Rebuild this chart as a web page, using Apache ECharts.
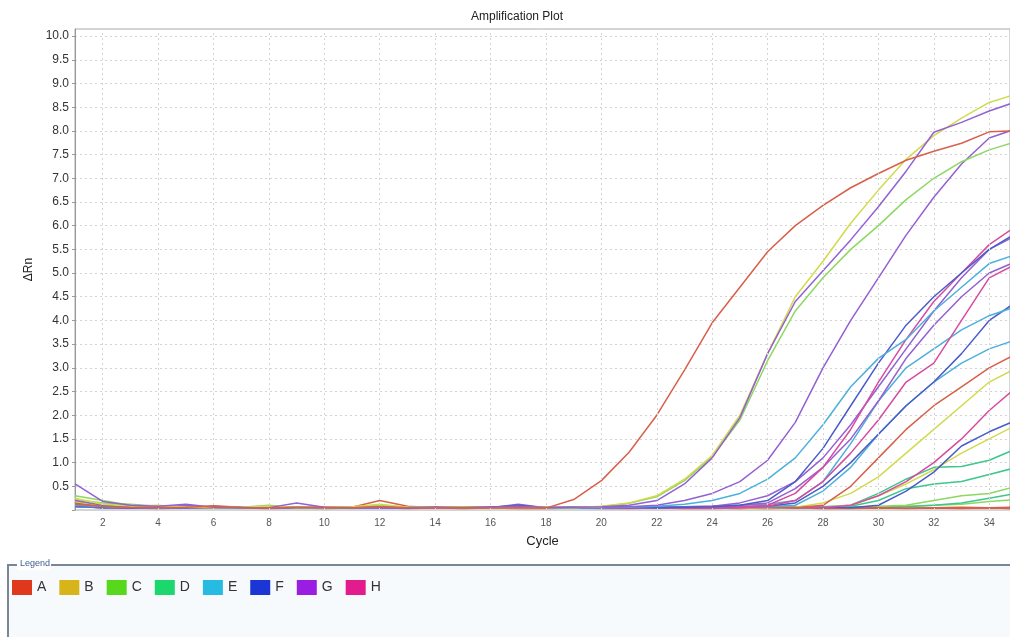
<!DOCTYPE html>
<html>
<head>
<meta charset="utf-8">
<script src="https://cdn.jsdelivr.net/npm/echarts@6/dist/echarts.min.js"></script>
<style>
  html, body { margin: 0; padding: 0; background: #fff; }
  #chart { width: 1010px; height: 637px; }
</style>
</head>
<body>
<div id="chart"></div>
<script>
// cycles 1..35
var cycles = [1,2,3,4,5,6,7,8,9,10,11,12,13,14,15,16,17,18,19,20,21,22,23,24,25,26,27,28,29,30,31,32,33,34,35];
var xTicks = [2,4,6,8,10,12,14,16,18,20,22,24,26,28,30,32,34];
var rows = ['A','B','C','D','E','F','G','H'];

// ΔRn per well, grouped by row
var a1 = [0.12,0.08,0.06,0.05,0.06,0.08,0.05,0.04,0.06,0.05,0.05,0.07,0.05,0.04,0.05,0.04,0.05,0.04,0.22,0.62,1.22,2.0,2.95,3.95,4.7,5.45,6.0,6.43,6.8,7.1,7.38,7.57,7.74,7.98,8.0];
var a2 = [0.15,0.1,0.07,0.06,0.05,0.09,0.06,0.05,0.04,0.05,0.06,0.2,0.08,0.05,0.04,0.05,0.06,0.04,0.05,0.04,0.05,0.04,0.05,0.04,0.03,0.05,0.04,0.05,0.04,0.05,0.04,0.05,0.06,0.05,0.06];
var a3 = [0.08,0.05,0.04,0.03,0.04,0.06,0.04,0.03,0.04,0.03,0.04,0.05,0.03,0.04,0.03,0.04,0.03,0.03,0.04,0.03,0.03,0.04,0.03,0.03,0.04,0.03,0.04,0.03,0.03,0.04,0.03,0.04,0.03,0.04,0.03];
var a4 = [0.1,0.07,0.05,0.06,0.05,0.07,0.05,0.06,0.05,0.04,0.05,0.06,0.05,0.04,0.05,0.04,0.05,0.04,0.05,0.04,0.05,0.04,0.05,0.04,0.05,0.06,0.05,0.1,0.5,1.1,1.7,2.2,2.6,3.0,3.3];
var b1 = [0.25,0.12,0.08,0.1,0.06,0.05,0.06,0.08,0.05,0.06,0.07,0.12,0.06,0.05,0.06,0.05,0.04,0.06,0.05,0.08,0.15,0.3,0.65,1.15,2.0,3.3,4.5,5.25,6.05,6.75,7.4,7.9,8.27,8.6,8.78];
var b2 = [0.2,0.1,0.07,0.05,0.06,0.05,0.07,0.05,0.04,0.05,0.06,0.08,0.05,0.04,0.05,0.04,0.05,0.06,0.04,0.05,0.04,0.05,0.04,0.05,0.04,0.05,0.06,0.15,0.35,0.7,1.2,1.7,2.2,2.7,3.0];
var b3 = [0.18,0.09,0.06,0.05,0.05,0.06,0.05,0.04,0.05,0.04,0.05,0.1,0.05,0.04,0.05,0.04,0.05,0.04,0.05,0.04,0.05,0.04,0.05,0.04,0.05,0.04,0.05,0.06,0.1,0.3,0.55,0.85,1.2,1.5,1.8];
var c1 = [0.3,0.2,0.1,0.08,0.07,0.06,0.05,0.07,0.06,0.05,0.06,0.1,0.06,0.05,0.06,0.05,0.06,0.05,0.06,0.07,0.14,0.28,0.62,1.12,1.9,3.15,4.2,4.9,5.5,6.0,6.55,7.0,7.35,7.6,7.78];
var c2 = [0.22,0.15,0.12,0.08,0.06,0.05,0.06,0.1,0.05,0.06,0.05,0.08,0.06,0.05,0.04,0.05,0.06,0.05,0.04,0.05,0.06,0.05,0.04,0.05,0.06,0.05,0.06,0.05,0.06,0.08,0.1,0.2,0.3,0.35,0.5];
var c3 = [0.15,0.12,0.09,0.06,0.05,0.06,0.05,0.06,0.05,0.04,0.06,0.07,0.05,0.06,0.05,0.04,0.05,0.06,0.05,0.04,0.06,0.05,0.06,0.05,0.04,0.06,0.05,0.06,0.07,0.06,0.08,0.1,0.12,0.18,0.22];
var d1 = [0.12,0.08,0.06,0.05,0.06,0.05,0.04,0.05,0.06,0.05,0.04,0.05,0.06,0.05,0.04,0.05,0.06,0.05,0.04,0.05,0.06,0.05,0.04,0.05,0.06,0.05,0.06,0.07,0.1,0.35,0.65,0.9,0.92,1.05,1.3];
var d2 = [0.1,0.07,0.05,0.06,0.05,0.04,0.05,0.06,0.05,0.04,0.05,0.06,0.05,0.04,0.05,0.06,0.05,0.04,0.05,0.06,0.05,0.04,0.05,0.06,0.05,0.04,0.05,0.06,0.08,0.2,0.45,0.55,0.6,0.75,0.9];
var d3 = [0.14,0.1,0.07,0.05,0.06,0.05,0.06,0.05,0.04,0.05,0.06,0.05,0.04,0.05,0.06,0.05,0.04,0.05,0.06,0.05,0.04,0.05,0.06,0.05,0.04,0.05,0.06,0.05,0.06,0.05,0.07,0.1,0.15,0.25,0.35];
var e1 = [0.1,0.07,0.06,0.05,0.06,0.05,0.04,0.05,0.06,0.05,0.04,0.05,0.06,0.05,0.04,0.05,0.06,0.05,0.04,0.05,0.06,0.08,0.12,0.2,0.35,0.65,1.1,1.8,2.6,3.2,3.6,4.2,4.7,5.2,5.4];
var e2 = [0.08,0.06,0.05,0.06,0.05,0.04,0.05,0.06,0.05,0.04,0.05,0.06,0.05,0.04,0.05,0.06,0.05,0.04,0.05,0.06,0.05,0.06,0.07,0.08,0.1,0.12,0.2,0.6,1.4,2.3,3.0,3.4,3.8,4.1,4.3];
var e3 = [0.07,0.05,0.06,0.05,0.04,0.05,0.06,0.05,0.04,0.05,0.06,0.05,0.04,0.05,0.06,0.05,0.04,0.05,0.06,0.05,0.04,0.05,0.06,0.05,0.06,0.07,0.1,0.4,0.9,1.6,2.2,2.7,3.1,3.4,3.6];
var f1 = [0.09,0.06,0.05,0.06,0.05,0.04,0.05,0.06,0.05,0.04,0.05,0.06,0.05,0.04,0.05,0.06,0.1,0.05,0.04,0.05,0.06,0.05,0.06,0.07,0.1,0.2,0.6,1.3,2.2,3.1,3.9,4.5,5.0,5.5,5.85];
var f2 = [0.08,0.05,0.06,0.05,0.04,0.05,0.06,0.05,0.04,0.05,0.06,0.05,0.04,0.05,0.06,0.05,0.04,0.05,0.06,0.05,0.04,0.05,0.06,0.05,0.06,0.08,0.15,0.5,1.0,1.6,2.2,2.7,3.3,4.0,4.4];
var f3 = [0.07,0.06,0.05,0.04,0.05,0.06,0.05,0.04,0.05,0.06,0.05,0.04,0.05,0.06,0.05,0.04,0.05,0.06,0.05,0.04,0.05,0.06,0.05,0.04,0.05,0.06,0.05,0.06,0.05,0.1,0.4,0.8,1.35,1.65,1.9];
var g1 = [0.55,0.18,0.1,0.08,0.12,0.06,0.05,0.05,0.15,0.06,0.05,0.06,0.05,0.04,0.05,0.06,0.08,0.05,0.06,0.07,0.1,0.2,0.55,1.1,1.95,3.3,4.4,5.05,5.7,6.4,7.15,7.97,8.18,8.42,8.62];
var g2 = [0.2,0.1,0.07,0.06,0.05,0.06,0.05,0.04,0.05,0.06,0.05,0.04,0.05,0.06,0.05,0.04,0.05,0.06,0.05,0.06,0.07,0.1,0.2,0.35,0.6,1.05,1.85,3.0,4.0,4.9,5.8,6.6,7.3,7.85,8.05];
var g3 = [0.12,0.08,0.06,0.05,0.1,0.05,0.06,0.05,0.04,0.05,0.06,0.05,0.04,0.05,0.06,0.05,0.12,0.05,0.04,0.05,0.06,0.05,0.06,0.08,0.15,0.3,0.6,1.1,1.8,2.6,3.4,4.2,4.9,5.5,5.8];
var g4 = [0.1,0.07,0.05,0.06,0.05,0.04,0.05,0.06,0.05,0.04,0.05,0.06,0.05,0.04,0.05,0.06,0.05,0.04,0.05,0.06,0.05,0.06,0.07,0.08,0.1,0.15,0.45,0.9,1.5,2.3,3.2,3.9,4.5,5.0,5.25];
var h1 = [0.1,0.06,0.05,0.06,0.05,0.04,0.05,0.06,0.05,0.04,0.05,0.06,0.05,0.04,0.05,0.06,0.05,0.04,0.05,0.06,0.05,0.04,0.05,0.06,0.07,0.1,0.35,0.9,1.7,2.7,3.6,4.4,5.0,5.6,6.0];
var h2 = [0.09,0.06,0.05,0.04,0.05,0.06,0.05,0.04,0.05,0.06,0.05,0.04,0.05,0.06,0.05,0.04,0.05,0.06,0.05,0.04,0.05,0.06,0.05,0.04,0.05,0.08,0.2,0.6,1.2,1.9,2.7,3.1,4.0,4.9,5.2];
var h3 = [0.08,0.05,0.06,0.05,0.04,0.05,0.06,0.05,0.04,0.05,0.06,0.05,0.04,0.05,0.06,0.05,0.04,0.05,0.06,0.05,0.04,0.05,0.06,0.05,0.04,0.05,0.06,0.05,0.1,0.3,0.6,1.0,1.5,2.1,2.6];

var wells = [
  ['C', c2], ['C', c3], ['D', d3], ['D', d2], ['D', d1], ['A', a2], ['A', a3],
  ['B', b3], ['F', f3], ['H', h3], ['B', b2], ['A', a4], ['E', e3], ['F', f2],
  ['E', e2], ['H', h2], ['G', g4], ['G', g3], ['H', h1], ['F', f1], ['E', e1],
  ['G', g2], ['C', c1], ['B', b1], ['G', g1], ['A', a1]
];

// legend swatch colours and softer line colours
var rowColor = { A:'#e0381c', B:'#d6b41a', C:'#58d81c', D:'#1cd86c', E:'#26bce2', F:'#1c36d6', G:'#9a1ee2', H:'#e21c8c' };
var lineColor = { A:'#d8604a', B:'#d2da4c', C:'#8cd862', D:'#3cc88c', E:'#4cb0dc', F:'#4a5cc8', G:'#9460d2', H:'#d64ca0' };

var gridStyle = { color: '#d4d4d4', type: [2, 3], width: 1 };

var series = [{
  // vertical dotted grid lines at the labelled cycles only
  name: 'grid',
  type: 'line',
  data: [],
  silent: true,
  z: 1,
  markLine: {
    silent: true,
    symbol: 'none',
    label: { show: false },
    lineStyle: gridStyle,
    data: xTicks.map(function (v) { return { xAxis: v }; })
  }
}].concat(wells.map(function (w) {
  return {
    name: w[0],
    type: 'line',
    symbol: 'none',
    clip: true,
    z: 2,
    lineStyle: { width: 1.5, color: lineColor[w[0]] },
    itemStyle: { color: rowColor[w[0]] },
    data: cycles.map(function (c, i) { return [c, w[1][i]]; })
  };
}));

var myChart = echarts.init(document.getElementById('chart'));
myChart.setOption({
  backgroundColor: '#fff',
  animation: false,
  title: {
    text: 'Amplification Plot',
    left: 466, top: 6,
    textStyle: { fontSize: 12, fontWeight: 'normal', color: '#222', fontFamily: 'Liberation Sans' }
  },
  legend: {
    left: 7, top: 575,
    itemWidth: 20, itemHeight: 15, itemGap: 13,
    icon: 'rect',
    selectedMode: false,
    textStyle: { fontSize: 14, color: '#333', fontFamily: 'Liberation Sans' },
    data: rows.map(function (r) { return { name: r, itemStyle: { color: rowColor[r] } }; })
  },
  grid: { left: 75, top: 29, right: -2, bottom: 127, show: true, borderColor: '#aaa', borderWidth: 1 },
  xAxis: {
    type: 'value', min: 1, max: 34.75,
    name: 'Cycle', nameLocation: 'middle', nameGap: 25,
    nameTextStyle: { fontSize: 13, color: '#222', fontFamily: 'Liberation Sans' },
    axisLine: { show: false },
    axisTick: { show: false, customValues: xTicks },
    axisLabel: { customValues: xTicks, fontSize: 10, color: '#555', fontFamily: 'Liberation Sans' },
    splitLine: { show: false }
  },
  yAxis: {
    type: 'value', min: 0, max: 10.15, interval: 0.5,
    name: 'ΔRn', nameLocation: 'middle', nameGap: 40, nameRotate: 90,
    nameTextStyle: { fontSize: 12, color: '#222', fontFamily: 'Liberation Sans' },
    axisLine: { show: true, lineStyle: { color: '#999' } },
    axisTick: { show: true, length: 3, lineStyle: { color: '#999' } },
    axisLabel: {
      fontSize: 12, color: '#333', margin: 6, fontFamily: 'Liberation Sans',
      showMaxLabel: false,
      formatter: function (v) { return (v === 0 || v > 10.01) ? '' : v.toFixed(1); }
    },
    splitLine: { show: true, lineStyle: gridStyle }
  },
  graphic: [
    { type: 'rect', silent: true, z: -10, shape: { x: 8, y: 565, width: 1010, height: 80 }, style: { fill: '#f6fafd' } },
    { type: 'polyline', silent: true, shape: { points: [[8, 640], [8, 565], [1012, 565]] }, style: { stroke: '#7a8696', lineWidth: 2, fill: null } },
    { type: 'rect', silent: true, shape: { x: 17, y: 559, width: 34, height: 11 }, style: { fill: '#fff' } },
    { type: 'text', silent: true, left: 20, top: 559, style: { text: 'Legend', fontSize: 9, fill: '#3d5f93', fontFamily: 'Liberation Sans' } }
  ],
  series: series
});
</script>
</body>
</html>
